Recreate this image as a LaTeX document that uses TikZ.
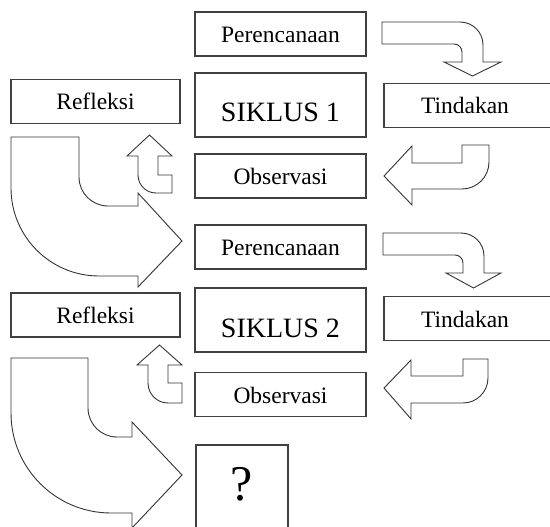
\documentclass[tikz,border=0pt]{standalone}
\usepackage{fontspec}
\setmainfont{Liberation Serif}
\begin{document}
\begin{tikzpicture}[x=1pt,y=-1pt,box_node/.style={draw=black!75,line width=1.2pt,rectangle,minimum width=171pt,minimum height=44pt,inner sep=0pt,text height=17pt,text depth=0pt,font=\fontsize{23.5}{28}\selectfont},siklus_node/.style={box_node,minimum height=64pt,text height=34pt,font=\fontsize{28}{32}\selectfont},arrow_shape/.style={draw=black!80,line width=0.9pt,line join=miter}]

		\useasboundingbox (0,0) rectangle (550,527);

		\node[box_node] (per1) at (280.5,34) {Perencanaan};
		\node[siklus_node] (sik1) at (280.5,105) {SIKLUS 1};
		\node[box_node,minimum width=180pt] (tin1) at (474,105.5) {\hspace*{-18pt}Tindakan};
		\node[box_node] (obs1) at (280.5,176) {Observasi};
		\node[box_node,minimum width=169pt] (ref1) at (95.5,101.5) {Refleksi};
		
		\node[box_node] (per2) at (280.5,247) {Perencanaan};
		\node[siklus_node] (sik2) at (280.5,320) {SIKLUS 2};
		\node[box_node,minimum width=180pt] (tin2) at (474,318.5) {\hspace*{-18pt}Tindakan};
		\node[box_node] (obs2) at (280.5,394.5) {Observasi};
		\node[box_node,minimum width=169pt] (ref2) at (95.5,315) {Refleksi};
		
		\node[box_node,minimum width=92pt,minimum height=86pt,text height=35pt,text depth=11pt,font=\fontsize{50}{56}\selectfont] (tanya) at (242,488) {?};
		
		\draw[arrow_shape] (382,22) -- (460,22) arc (270:360:23) -- (483,62) -- (501,62) -- (472.5,76) -- (444,62) -- (462,62) -- (462,52) arc (0:-90:8) -- (382,44) -- cycle;
		\draw[arrow_shape] (384,176) -- (412,146) -- (412,163) -- (462,163) -- (462,145) -- (489,145) -- (489,162) arc (0:90:27) -- (412,189) -- (412,205) -- cycle;
		\draw[arrow_shape] (149.5,135) -- (172,156) -- (158,156) -- (158,175) -- (172,175) -- (172,193) -- (156,193) arc (90:180:18) -- (138,156) -- (127,156) -- cycle;
		\draw[arrow_shape] (11,137) -- (79,137) -- (79,177) arc (180:90:29) -- (138,206) -- (138,193) -- (182,241) -- (138,287) -- (138,276) -- (99,276) arc (90:180:88) -- cycle;
		
		\draw[arrow_shape] (383,233) -- (461,233) arc (270:360:23) -- (484,273) -- (501,273) -- (473.5,288) -- (446,273) -- (463,273) -- (463,263) arc (0:-90:8) -- (383,255) -- cycle;
		\draw[arrow_shape] (384,388) -- (411,360) -- (411,376) -- (463,376) -- (463,359) -- (488,359) -- (488,378) arc (0:90:25) -- (411,403) -- (411,419) -- cycle;
		\draw[arrow_shape] (159.5,345) -- (182,365) -- (168,365) -- (168,383) -- (182,383) -- (182,403) -- (168,403) arc (90:180:20) -- (148,365) -- (137,365) -- cycle;
		\draw[arrow_shape] (11,358) -- (88,358) -- (88,408) arc (180:90:29) -- (132,437) -- (132,422) -- (182,475) -- (132,528) -- (132,513) -- (111,513) arc (90:180:100) -- cycle;
		\end{tikzpicture}
\end{document}
